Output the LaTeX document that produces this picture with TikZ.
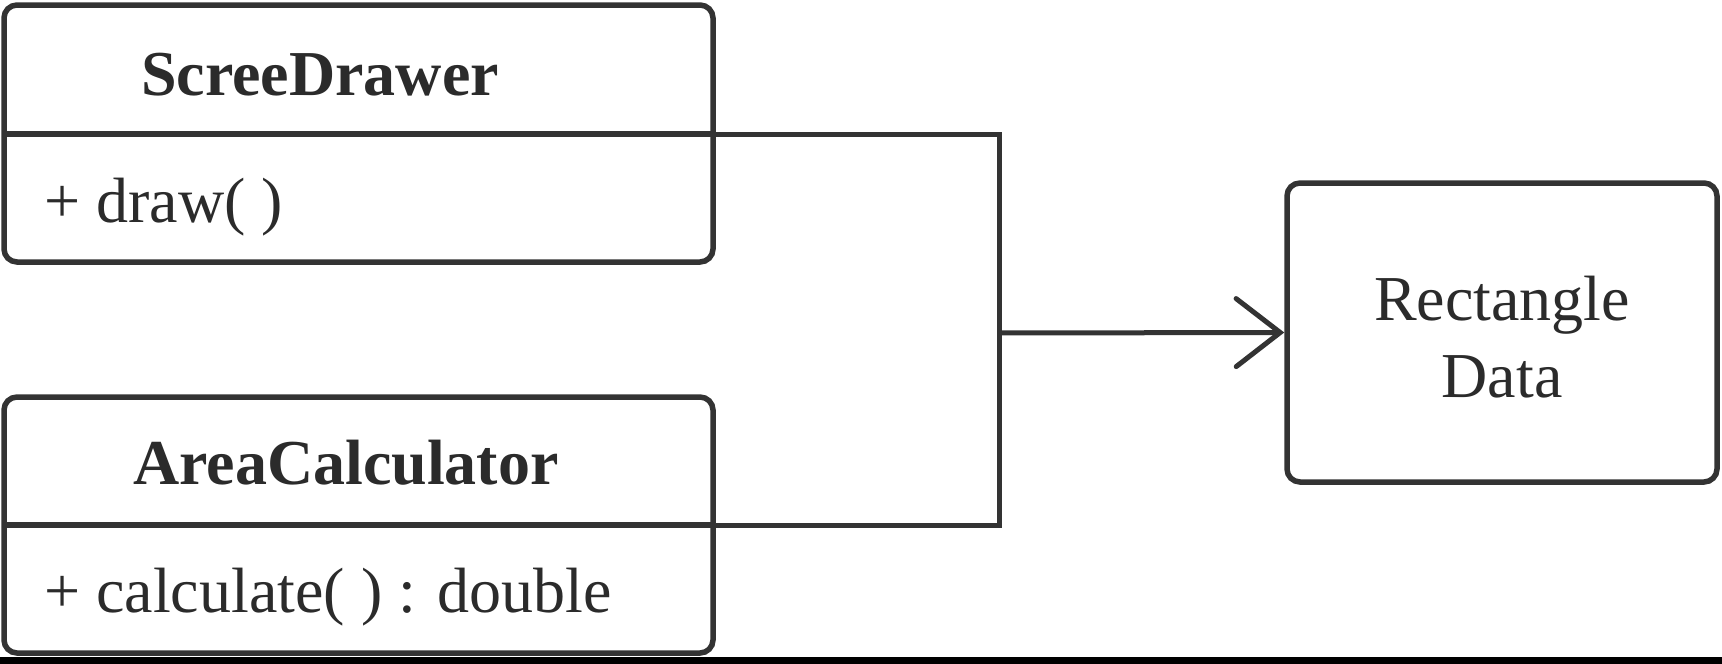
\documentclass[tikz,border=0pt]{standalone}
\usepackage{fontspec}
\setmainfont{Liberation Serif}
\usetikzlibrary{arrows.meta}
\definecolor{ink}{HTML}{333333}
\definecolor{txt}{HTML}{2B2B2B}
\tikzset{
  umlbox/.style={draw=ink, line width=5.5pt, rounded corners=13pt, inner sep=0pt},
  divline/.style={draw=ink, line width=5.5pt},
  conn/.style={draw=ink, line width=5pt},
  titletext/.style={inner sep=0pt, text=txt, font=\fontsize{64}{77}\selectfont\bfseries},
  optext/.style={inner sep=0pt, text=txt, font=\fontsize{64}{77}\selectfont},
  barb/.tip={Straight Barb[length=44pt, width=68pt, line width=5pt, line cap=round]}
}
\begin{document}
\begin{tikzpicture}[x=1pt,y=-1pt]
\useasboundingbox (0,0) rectangle (1722,664);
\fill[white] (0,0) rectangle (1722,664);
% boxes
\node[umlbox, minimum width=709pt, minimum height=257pt] (sd) at (358.5,133.5) {};
\node[umlbox, minimum width=709pt, minimum height=256pt] (ac) at (358.5,525) {};
\node[umlbox, minimum width=430pt, minimum height=299pt] (rd) at (1502,332.5) {};
% dividers
\coordinate (sdL) at (4,134);
\coordinate (sdR) at (713,134);
\coordinate (acL) at (4,525);
\coordinate (acR) at (713,525);
\draw[divline] (sdL) -- (sdR);
\draw[divline] (acL) -- (acR);
% texts
\node[titletext, anchor=base] (sdT) at (320,95.5) {ScreeDrawer};
\node[optext, anchor=base west] (sdO) at (44,222) {+ draw( )};
\node[titletext, anchor=base] (acT) at (346,484) {AreaCalculator};
\node[optext, anchor=base west] (acO) at (44,612) {+ calculate( ) : double};
\node[optext, align=center] (rdT) at (1502,337) {Rectangle\\Data};
% connectors
\coordinate (j) at (999,333);
\draw[conn] (sdR) -| (j) |- (acR);
\draw[conn, -{barb}] (j) -- (rd.west);
% bottom band
\fill[black] (0,657) rectangle (1722,664);
\end{tikzpicture}
\end{document}
